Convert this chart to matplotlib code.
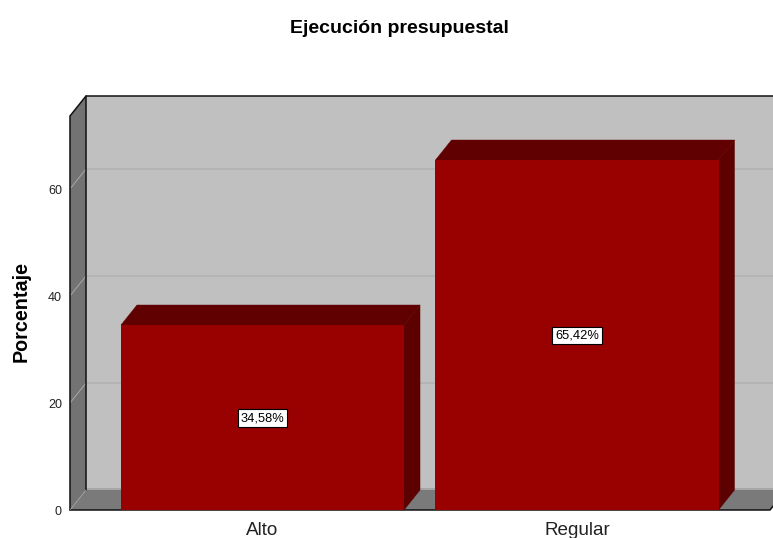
import matplotlib
matplotlib.use("Agg")
import matplotlib.pyplot as plt
from matplotlib.patches import Polygon

plt.rcParams['font.family'] = ['Liberation Sans', 'DejaVu Sans']

categories = ["Alto", "Regular"]
values = [34.58, 65.42]
labels = ["34,58%", "65,42%"]
yticks = [0, 20, 40, 60]
title = "Ejecución presupuestal"
ylabel = "Porcentaje"

W, H = 773, 538
fig = plt.figure(figsize=(W / 100, H / 100), dpi=100, facecolor="white")
# Axes spans the front plane horizontally, and up to the back wall's top
L, R, B, T = 70, 770, 510, 96
ax = fig.add_axes([L / W, 1 - B / H, (R - L) / W, (B - T) / H])
ppu_x, ppu_y = 314.5, 5.35
xmin = (L - 262.5) / ppu_x
xmax = (R - 262.5) / ppu_x
ymax = (B - T) / ppu_y
ax.set_xlim(xmin, xmax)
ax.set_ylim(0, ymax)
ax.axis("off")
dx, dy = 16 / ppu_x, 20 / ppu_y
front_top = ymax - dy
WALL, FLOOR, BACK = "#737373", "#7a7a7a", "#c0c0c0"


def poly(pts, fc, ec="none", lw=0, z=1):
    ax.add_patch(Polygon(pts, closed=True, facecolor=fc, edgecolor=ec,
                         linewidth=lw, zorder=z, clip_on=False))


# back wall, left wall, floor
poly([(xmin + dx, dy), (xmax + dx, dy), (xmax + dx, ymax), (xmin + dx, ymax)], BACK)
poly([(xmin + dx, dy), (xmax + dx, dy), (xmax + dx, dy + 0.45), (xmin + dx, dy + 0.45)], "#a6a6a6", z=1.1)
poly([(xmin, 0), (xmin + dx, dy), (xmin + dx, ymax), (xmin, front_top)], WALL)
poly([(xmin, 0), (xmax, 0), (xmax + dx, dy), (xmin + dx, dy)], FLOOR)

# gridlines on wall and back
for t in yticks:
    if t == 0:
        continue
    ax.plot([xmin, xmin + dx, xmax + dx], [t, t + dy, t + dy], color="#a8a8a8", lw=0.7, zorder=1.5, clip_on=False)

# frame edges
edge = dict(color="#111111", lw=1.1, zorder=2, clip_on=False, solid_capstyle="round")
ax.plot([xmin, xmin, xmin + dx, xmax + dx], [0, front_top, ymax, ymax], **edge)
ax.plot([xmin + dx, xmin + dx], [dy, ymax], **edge)
ax.plot([xmin, xmax, xmax + dx], [0, 0, dy], **edge)
ax.plot([xmin, xmin + dx], [0, dy], color="#a3a3a3", lw=0.5, zorder=2.1)

# bars
w = 0.9
for i, v in enumerate(values):
    x0, x1 = i - w / 2, i + w / 2
    poly([(x0, v), (x1, v), (x1 + dx, v + dy), (x0 + dx, v + dy)], "#600000", "#600000", 0.3, z=3)
    poly([(x1, 0), (x1 + dx, dy), (x1 + dx, v + dy), (x1, v)], "#5c0000", "#5c0000", 0.3, z=3)
    ax.bar(i, v, width=w, bottom=0, color="#990000", edgecolor="none", zorder=4)
    ax.text(i, v / 2 - 0.1, labels[i], ha="center", va="center", fontsize=9.3, color="black", zorder=6,
            bbox=dict(boxstyle="square,pad=0.2", fc="white", ec="black", lw=0.8))
    ax.text(i, -3.75, categories[i], ha="center", va="center", fontsize=13.6, color="#222222", clip_on=False)

# tick labels
for t in yticks:
    ax.text(xmin - 8 / ppu_x, t - 0.3, str(t), ha="right", va="center", fontsize=9, color="#222222", clip_on=False)

fig.text(21.5 / W, 1 - 312 / H, ylabel, rotation=90, ha="center", va="center", fontsize=14.2, fontweight="bold")
fig.text(399.5 / W, 1 - 28.5 / H, title, ha="center", va="center", fontsize=14, fontweight="bold")

fig.savefig("out.png", dpi=100, facecolor="white")
